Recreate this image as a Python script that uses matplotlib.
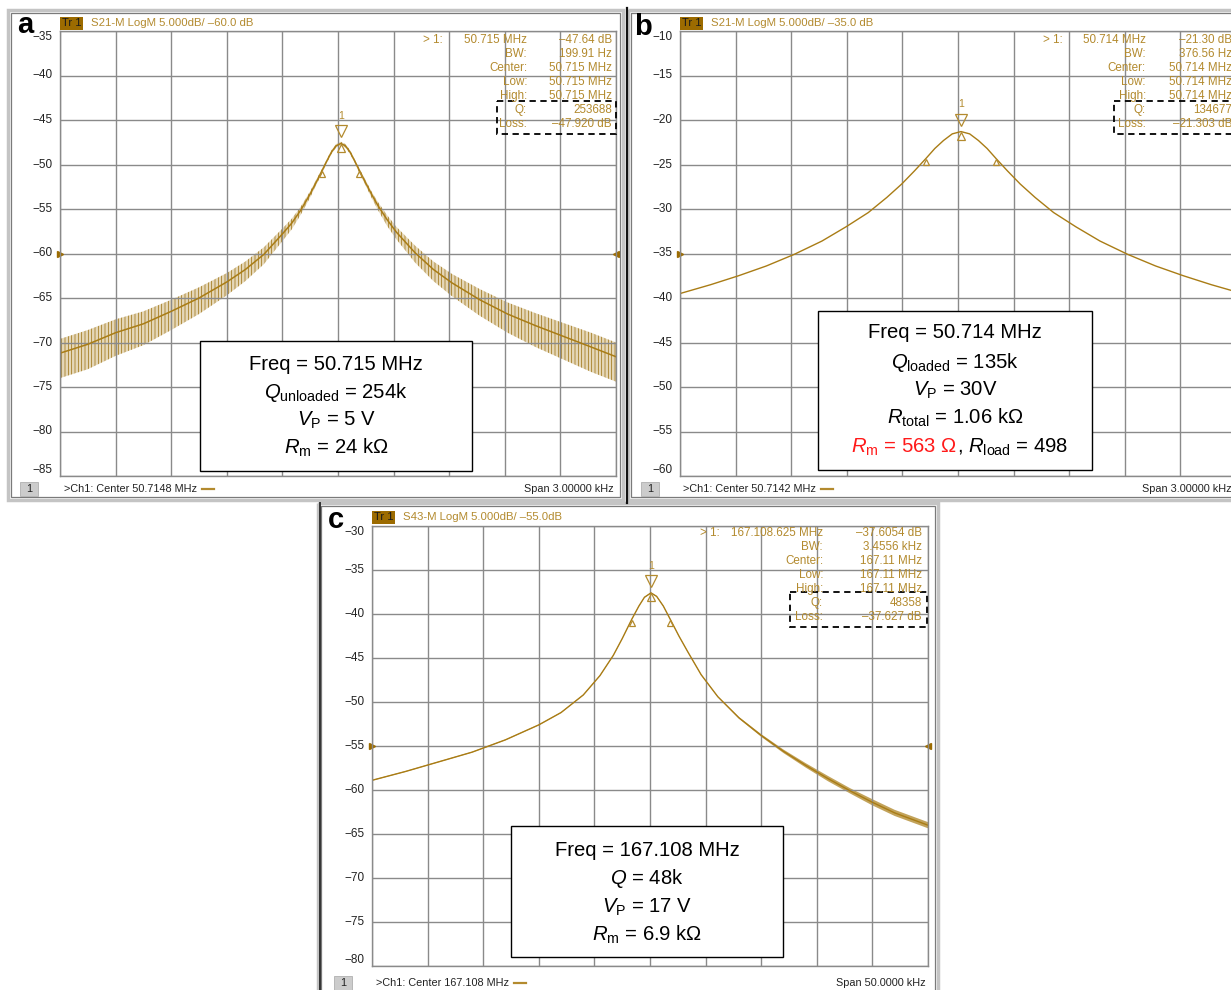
import numpy as np
import matplotlib
matplotlib.use("Agg")
import matplotlib.pyplot as plt
from matplotlib.patches import Rectangle

plt.rcParams['font.family'] = ['Liberation Sans', 'DejaVu Sans']
plt.rcParams['mathtext.fontset'] = 'custom'
plt.rcParams['mathtext.rm'] = 'Liberation Sans'
plt.rcParams['mathtext.it'] = 'Liberation Sans:italic'
plt.rcParams['hatch.linewidth'] = 0.5

# ---------------- data ----------------
# panel a : S21, offset from centre 50.7148 MHz in Hz, magnitude in dB
freq_a = [-1500, -1350, -1200, -1050, -900, -750, -600, -500, -400, -300, -250, -200,
          -150, -120, -85, -60, -35, -10, 15, 40, 65, 90, 115, 150, 180, 215, 265, 315,
          415, 515, 615, 765, 915, 1065, 1215, 1365, 1500]
mag_a = [-71.2, -70.2, -68.9, -67.9, -66.5, -65.0, -63.2, -61.8, -60.1, -57.8, -56.6, -55.1,
         -53.3, -52.1, -50.65, -49.6, -48.6, -47.9, -47.64, -47.9, -48.6, -49.6, -50.65, -52.1,
         -53.3, -54.6, -56.2, -57.6, -59.9, -61.8, -63.3, -65.2, -66.8, -68.1, -69.3, -70.5, -71.6]
# spread of the noisy trace above / below the mean (dB)
noise_up_a = [1.6, 1.6, 1.5, 1.4, 1.3, 1.2, 1.0, 0.9, 0.8, 0.6, 0.5, 0.4,
              0.3, 0.3, 0.2, 0.2, 0.2, 0.2, 0.2, 0.2, 0.2, 0.2, 0.2, 0.3,
              0.3, 0.4, 0.5, 0.6, 0.8, 0.9, 1.0, 1.2, 1.3, 1.4, 1.5, 1.6, 1.6]
noise_dn_a = [2.8, 2.8, 2.6, 2.4, 2.1, 1.8, 1.5, 1.3, 1.1, 0.8, 0.7, 0.5,
              0.4, 0.3, 0.3, 0.2, 0.2, 0.2, 0.2, 0.2, 0.2, 0.2, 0.3, 0.3,
              0.4, 0.5, 0.7, 0.8, 1.1, 1.3, 1.5, 1.8, 2.1, 2.4, 2.6, 2.8, 2.8]

# panel b : S21, offset from centre 50.7142 MHz in Hz
freq_b = [-1500, -1334, -1184, -1034, -884, -734, -604, -484, -384, -304, -234, -172,
          -125, -78, -31, 16, 63, 110, 157, 204, 266, 336, 416, 516, 636, 766, 916,
          1066, 1216, 1366, 1500]
mag_b = [-39.5, -38.5, -37.5, -36.4, -35.1, -33.6, -32.0, -30.4, -28.7, -27.2, -25.7, -24.3,
         -23.2, -22.3, -21.56, -21.30, -21.56, -22.3, -23.2, -24.3, -25.7, -27.2, -28.7, -30.4,
         -32.0, -33.6, -35.1, -36.4, -37.5, -38.5, -39.3]

# panel c : S43, offset from centre 167.108 MHz in kHz
freq_c = [-25, -22, -19, -16, -13, -10, -8, -6, -4.5, -3.3, -2.5, -1.64, -1.0, -0.5, 0.09,
          0.6, 1.2, 1.82, 2.6, 3.4, 4.6, 6.1, 8, 10, 12, 14, 16, 18, 20, 22, 25]
mag_c = [-58.9, -57.9, -56.8, -55.7, -54.3, -52.6, -51.2, -49.2, -47.0, -44.7, -42.8, -40.6,
         -39.1, -38.1, -37.6, -38.0, -39.1, -40.6, -42.5, -44.3, -46.9, -49.4, -51.8, -53.8,
         -55.6, -57.2, -58.7, -60.1, -61.4, -62.6, -64.0]
noise_c = [0.05, 0.05, 0.05, 0.05, 0.05, 0.05, 0.05, 0.05, 0.05, 0.05, 0.05, 0.05, 0.05, 0.05,
           0.05, 0.05, 0.05, 0.05, 0.05, 0.05, 0.05, 0.05, 0.1, 0.15, 0.2, 0.25, 0.3, 0.3,
           0.35, 0.35, 0.35]

ytick_a = [-35, -40, -45, -50, -55, -60, -65, -70, -75, -80, -85]
ytick_b = [-10, -15, -20, -25, -30, -35, -40, -45, -50, -55, -60]
ytick_c = [-30, -35, -40, -45, -50, -55, -60, -65, -70, -75, -80]

W, H = 1231, 990
gold = '#b38a2e'
trace = '#a97c15'
brown = '#9c6b00'
gridc = '#8a8a8a'

fig = plt.figure(figsize=(W / 100, H / 100), dpi=100)


def px_axes(x0, y0, x1, y1):
    return fig.add_axes([x0 / W, 1 - y1 / H, (x1 - x0) / W, (y1 - y0) / H])


def scope(rect, xlim, ticks, ref):
    ax = px_axes(*rect)
    ax.set_xlim(*xlim)
    ax.set_ylim(ticks[-1], ticks[0])
    ax.set_xticks(np.linspace(xlim[0], xlim[1], 11))
    ax.set_yticks(ticks)
    ax.grid(True, color=gridc, lw=1)
    ax.tick_params(length=0, labelbottom=False, labelleft=False)
    for s in ax.spines.values():
        s.set_color(gridc)
        s.set_linewidth(1)
    tr = ax.get_yaxis_transform()
    for i, t in enumerate(ticks):
        va = 'top' if i == 0 else ('bottom' if i == len(ticks) - 1 else 'center')
        ax.text(-0.014, t, '\u2212%d' % abs(t), transform=tr, ha='right', va=va,
                fontsize=8.5, color='#222222', clip_on=False)
    # reference level arrows
    ax.plot([0], [ref], marker='>', ms=5, color=brown, transform=tr, clip_on=False)
    ax.plot([1.0], [ref], marker='<', ms=5, color=brown, transform=tr, clip_on=False)
    return ax


def markers(ax, pf, pdb, bw):
    ax.plot(pf, pdb + 1.35, marker='v', ms=8.5, mfc='none', mec=gold, mew=0.9)
    ax.plot(pf, pdb - 0.45, marker='^', ms=6, mfc='none', mec=gold, mew=0.9)
    ax.text(pf, pdb + 2.5, '1', ha='center', va='bottom', fontsize=7.5, color=gold)
    for s in (-1, 1):
        ax.plot(pf + s * bw / 2, pdb - 3.4, marker='^', ms=5, mfc='none', mec=gold, mew=0.9)


# panel a
ax_a = scope((60, 31, 616, 476), (-1500, 1500), ytick_a, -60)
lo = np.array(mag_a) - np.array(noise_dn_a)
hi = np.array(mag_a) + np.array(noise_up_a)
ax_a.fill_between(freq_a, lo, hi, facecolor=trace, alpha=0.3, lw=0)
ax_a.fill_between(freq_a, lo, hi, facecolor='none', edgecolor='#9a6e0c', hatch='|||||', lw=0)
ax_a.plot(freq_a, mag_a, color=trace, lw=1.1)
markers(ax_a, 15, -47.64, 200)

# panel b
ax_b = scope((680, 31, 1236, 476), (-1500, 1500), ytick_b, -35)
ax_b.plot(freq_b, mag_b, color=trace, lw=1)
markers(ax_b, 16, -21.30, 376.56)

# panel c
ax_c = scope((372, 526, 928, 966), (-25, 25), ytick_c, -55)
lo = np.array(mag_c) - np.array(noise_c)
hi = np.array(mag_c) + np.array(noise_c)
ax_c.fill_between(freq_c, lo, hi, facecolor=trace, alpha=0.7, lw=0)
ax_c.plot(freq_c, mag_c, color=trace, lw=1)
markers(ax_c, 0.09, -37.6, 3.4556)

# ---------------- overlay in pixel coordinates ----------------
bg = fig.add_axes([0, 0, 1, 1])
bg.set_xlim(0, W)
bg.set_ylim(H, 0)
bg.axis('off')
bg.set_zorder(5)
renderer = fig.canvas.get_renderer()


def frame(x0, y0, x1, y1):
    bg.add_patch(Rectangle((x0, y0), x1 - x0, y1 - y0, fill=False, ec='#c4c4c4', lw=2.5))
    bg.add_patch(Rectangle((x0 + 3, y0 + 3), x1 - x0 - 6, y1 - y0 - 6, fill=False, ec='#7a7a7a', lw=0.9))


frame(8, 10, 623, 500)
frame(628, 10, 1240, 500)
frame(318, 503, 938, 995)
bg.plot([626.5, 626.5], [8, 503], color='#111111', lw=1.6)
bg.plot([319.5, 319.5], [503, 990], color='#333333', lw=1.4)


def header(x, y, txt):
    bg.add_patch(Rectangle((x, y - 6.5), 23, 13, fc=brown, ec='none'))
    bg.text(x + 11.5, y, 'Tr 1', ha='center', va='center', fontsize=8, color='#1a1a1a')
    bg.text(x + 31, y, txt, ha='left', va='center', fontsize=8.2, color=gold)


header(60, 23, 'S21-M LogM 5.000dB/ \u201360.0 dB')
header(680, 23, 'S21-M LogM 5.000dB/ \u201335.0 dB')
header(372, 517, 'S43-M LogM 5.000dB/ \u201355.0dB')

bg.text(25, 25, 'a', ha='center', va='center', fontsize=21, fontweight='bold')
bg.text(643, 27, 'b', ha='center', va='center', fontsize=21, fontweight='bold')
bg.text(336, 520, 'c', ha='center', va='center', fontsize=21, fontweight='bold')


def status(x_box, y, center_txt, span_txt, x_txt, x_span):
    bg.add_patch(Rectangle((x_box, y - 7), 18, 14, fc='#cccccc', ec='#b0b0b0', lw=0.6))
    bg.text(x_box + 9, y, '1', ha='center', va='center', fontsize=7.8, color='#222222')
    t = bg.text(x_txt, y, center_txt, ha='left', va='center', fontsize=7.8, color='#222222')
    width_px = t.get_window_extent(renderer=renderer).width
    x_dash = x_txt + width_px + 5
    bg.plot([x_dash, x_dash + 12], [y, y], color=gold, lw=1.6)
    bg.text(x_span, y, span_txt, ha='right', va='center', fontsize=7.8, color='#222222')


status(20, 489, '>Ch1: Center 50.7148 MHz', 'Span 3.00000 kHz', 64, 614)
status(641, 489, '>Ch1: Center 50.7142 MHz', 'Span 3.00000 kHz', 683, 1232)
status(334, 983, '>Ch1: Center 167.108 MHz', 'Span 50.0000 kHz', 376, 926)


def readout(y0, xm, xl, xv, first, rows, box):
    fs = 8.4
    bg.text(xm, y0, '> 1:', ha='right', va='center', fontsize=fs, color=gold)
    bg.text(xl, y0, first[0], ha='right', va='center', fontsize=fs, color=gold)
    bg.text(xv, y0, first[1], ha='right', va='center', fontsize=fs, color=gold)
    for i, (lab, val) in enumerate(rows):
        y = y0 + 14 * (i + 1)
        bg.text(xl, y, lab, ha='right', va='center', fontsize=fs, color=gold)
        bg.text(xv, y, val, ha='right', va='center', fontsize=fs, color=gold)
    bx0, by0, bx1, by1 = box
    bg.add_patch(Rectangle((bx0, by0), bx1 - bx0, by1 - by0, fill=False, ec='black',
                           lw=1.3, ls=(0, (3.5, 2.5))))


readout(40, 443, 527, 612, ('50.715 MHz', '\u201347.64 dB'),
        [('BW:', '199.91 Hz'), ('Center:', '50.715 MHz'), ('Low:', '50.715 MHz'),
         ('High:', '50.715 MHz'), ('Q:', '253688'), ('Loss:', '\u201347.920 dB')],
        (497, 101, 616, 134))
readout(40, 1063, 1146, 1232, ('50.714 MHz', '\u201321.30 dB'),
        [('BW:', '376.56 Hz'), ('Center:', '50.714 MHz'), ('Low:', '50.714 MHz'),
         ('High:', '50.714 MHz'), ('Q:', '134677'), ('Loss:', '\u201321.303 dB')],
        (1114, 101, 1260, 134))
readout(533, 720, 823, 922, ('167.108.625 MHz', '\u201337.6054 dB'),
        [('BW:', '3.4556 kHz'), ('Center:', '167.11 MHz'), ('Low:', '167.11 MHz'),
         ('High:', '167.11 MHz'), ('Q:', '48358'), ('Loss:', '\u201337.627 dB')],
        (790, 592, 927, 627))

fs_box = 14.6


def textbox(x0, y0, x1, y1, lines, ys):
    bg.add_patch(Rectangle((x0, y0), x1 - x0, y1 - y0, fc='white', ec='black', lw=1))
    xc = (x0 + x1) / 2
    for s, y in zip(lines, ys):
        bg.text(xc, y, s, ha='center', va='center', fontsize=fs_box)


textbox(200, 341, 472, 471,
        ['Freq = 50.715 MHz', r'$Q_{\mathrm{unloaded}}$ = 254k', r'$V_{\mathrm{P}}$ = 5 V',
         r'$R_{\mathrm{m}}$ = 24 k$\Omega$'],
        [364, 393, 420, 448])
textbox(818, 311, 1092, 470,
        ['Freq = 50.714 MHz', r'$Q_{\mathrm{loaded}}$ = 135k', r'$V_{\mathrm{P}}$ = 30V',
         r'$R_{\mathrm{total}}$ = 1.06 k$\Omega$'],
        [333, 362, 390, 418])
bg.text(957, 447, r'$R_{\mathrm{m}}$ = 563 $\Omega$', ha='right', va='center', fontsize=fs_box,
        color='#ff1a1a')
bg.text(957, 447, r', $R_{\mathrm{load}}$ = 498', ha='left', va='center', fontsize=fs_box)
textbox(511, 826, 783, 957,
        ['Freq = 167.108 MHz', r'$Q$ = 48k', r'$V_{\mathrm{P}}$ = 17 V',
         r'$R_{\mathrm{m}}$ = 6.9 k$\Omega$'],
        [850, 879, 907, 935])

fig.savefig('out.png', dpi=100)
